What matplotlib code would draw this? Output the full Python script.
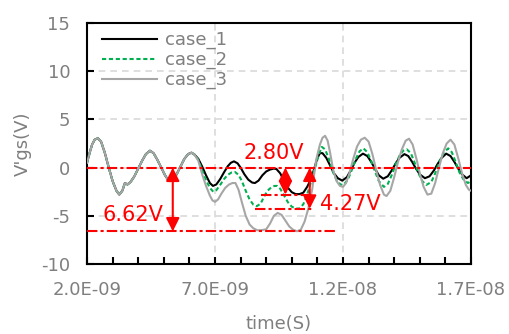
import numpy as np
import matplotlib
matplotlib.use('Agg')
import matplotlib.pyplot as plt
from matplotlib.ticker import MultipleLocator, FuncFormatter

plt.rcParams['axes.unicode_minus'] = False

# time values in ns, voltages in V
t_common = [2.0, 2.1, 2.2, 2.3, 2.42, 2.55, 2.7, 2.85, 3.0, 3.15, 3.26, 3.38, 3.48, 3.58,
            3.7, 3.85, 4.0, 4.15, 4.3, 4.46, 4.6, 4.75, 4.9, 5.05, 5.15, 5.25, 5.35, 5.5,
            5.65, 5.8, 5.95, 6.08, 6.2]
v_common = [0.5, 1.5, 2.4, 2.9, 3.05, 2.7, 1.5, 0.0, -1.4, -2.4, -2.8, -2.4, -1.6, -1.75,
            -1.5, -0.9, -0.1, 0.7, 1.4, 1.75, 1.5, 0.8, 0.0, -0.8, -1.2, -1.4, -1.3, -0.7,
            0.1, 0.9, 1.4, 1.55, 1.35]

t_case1 = [6.35, 6.5, 6.65, 6.8, 6.92, 7.05, 7.2, 7.35, 7.5, 7.62, 7.74, 7.88, 8.0, 8.15,
           8.3, 8.45, 8.56, 8.7, 8.85, 9.0, 9.15, 9.3, 9.4, 9.55, 9.7, 9.85, 10.0, 10.15,
           10.3, 10.45, 10.6, 10.75, 10.9, 11.0, 11.1, 11.2, 11.35, 11.5, 11.65, 11.8,
           11.97, 12.15, 12.3, 12.45, 12.6, 12.78, 12.95, 13.1, 13.25, 13.4, 13.57, 13.75,
           13.9, 14.05, 14.2, 14.4, 14.55, 14.7, 14.85, 15.0, 15.2, 15.38, 15.55, 15.7,
           15.85, 16.03, 16.2, 16.35, 16.5, 16.65, 16.83, 17.0]
v_case1 = [0.9, 0.1, -0.8, -1.6, -1.9, -1.75, -1.2, -0.5, 0.15, 0.5, 0.65, 0.45, 0.0, -0.7,
           -1.25, -1.55, -1.6, -1.35, -0.8, -0.4, -0.2, -0.1, -0.15, -0.6, -1.4, -2.1, -2.55,
           -2.75, -2.75, -2.6, -2.0, -1.2, 0.1, 1.0, 1.5, 1.5, 1.0, 0.2, -0.6, -1.1,
           -1.35, -1.0, -0.3, 0.5, 1.1, 1.45, 1.2, 0.6, -0.1, -0.8, -1.15, -0.9,
           -0.3, 0.4, 1.0, 1.4, 1.2, 0.6, -0.1, -0.7, -1.1, -0.9, -0.3, 0.4,
           1.0, 1.45, 1.2, 0.6, -0.1, -0.7, -1.1, -0.8]

t_case2 = [6.35, 6.5, 6.65, 6.8, 6.93, 7.05, 7.2, 7.35, 7.5, 7.65, 7.78, 7.92, 8.05, 8.2,
           8.35, 8.5, 8.63, 8.78, 8.92, 9.05, 9.2, 9.32, 9.43, 9.55, 9.7, 9.85, 10.0, 10.15,
           10.3, 10.45, 10.6, 10.75, 10.9, 11.05, 11.17, 11.3, 11.45, 11.6, 11.75, 11.9,
           12.02, 12.2, 12.35, 12.5, 12.65, 12.8, 12.95, 13.1, 13.25, 13.4, 13.6, 13.75,
           13.9, 14.05, 14.2, 14.35, 14.49, 14.65, 14.8, 14.95, 15.1, 15.25, 15.45, 15.6,
           15.75, 15.95, 16.11, 16.25, 16.4, 16.55, 16.7, 16.88, 17.0]
v_case2 = [0.8, -0.3, -1.3, -2.1, -2.5, -2.35, -1.8, -1.2, -0.75, -0.5, -0.45, -0.75, -1.4,
           -2.4, -3.3, -3.85, -4.0, -3.75, -3.0, -2.4, -2.05, -1.9, -1.9, -2.2, -2.9, -3.6,
           -4.05, -4.25, -4.25, -3.8, -2.8, -1.5, -0.1, 1.3, 2.15, 1.9, 0.9, -0.4, -1.3,
           -1.75, -1.8, -1.2, -0.2, 0.9, 1.7, 2.0, 1.6, 0.7, -0.4, -1.4, -2.0, -1.7,
           -0.8, 0.3, 1.2, 1.75, 1.9, 1.5, 0.5, -0.6, -1.4, -1.8, -1.5, -0.6,
           0.5, 1.6, 2.0, 1.6, 0.6, -0.5, -1.2, -1.6, -1.4]

t_case3 = [6.35, 6.5, 6.65, 6.8, 6.9, 7.0, 7.12, 7.25, 7.4, 7.55, 7.68, 7.8, 7.92, 8.05,
           8.2, 8.35, 8.5, 8.65, 8.8, 9.0, 9.15, 9.3, 9.45, 9.6, 9.75, 9.9, 10.05, 10.2,
           10.35, 10.5, 10.65, 10.8, 10.95, 11.1, 11.2, 11.3, 11.4, 11.5, 11.62, 11.75,
           11.88, 12.0, 12.12, 12.25, 12.4, 12.55, 12.7, 12.85, 13.0, 13.15, 13.3, 13.45,
           13.6, 13.7, 13.85, 14.0, 14.15, 14.3, 14.45, 14.58, 14.72, 14.87, 15.02, 15.15,
           15.3, 15.45, 15.6, 15.75, 15.9, 16.05, 16.2, 16.35, 16.5, 16.65, 16.8, 16.92, 17.0]
v_case3 = [0.7, -0.7, -1.9, -2.9, -3.4, -3.55, -3.3, -2.7, -2.1, -1.75, -1.6, -1.6, -2.3,
           -3.6, -5.0, -5.9, -6.3, -6.5, -6.5, -6.4, -5.8, -5.0, -4.7, -4.9, -5.5, -6.1,
           -6.45, -6.6, -6.45, -5.6, -4.2, -2.2, 0.8, 2.4, 3.1, 3.3, 2.8, 1.5, -0.3, -1.4,
           -1.9, -2.0, -1.6, -0.6, 0.9, 2.2, 2.9, 3.1, 2.7, 1.4, -0.3, -1.8,
           -2.8, -2.95, -2.4, -1.0, 0.6, 1.9, 2.8, 3.0, 2.4, 0.9, -0.8, -2.0,
           -2.8, -2.7, -1.6, 0.0, 1.5, 2.5, 2.9, 2.4, 1.0, -0.6, -1.8, -2.3, -2.4]

x_ticks = [2e-9, 7e-9, 1.2e-8, 1.7e-8]

# measured drops (V)
drop_labels = ['6.62V', '2.80V', '4.27V']
drop_values = [6.62, 2.80, 4.27]

gray = '#7f7f7f'
red = '#ff0000'

fig, ax = plt.subplots(figsize=(5.1, 3.34), dpi=100)
fig.subplots_adjust(left=0.1706, right=0.9235, top=0.931, bottom=0.2096)

ns = 1e-9
t1 = np.array(t_common + t_case1) * ns
t2 = np.array(t_common + t_case2) * ns
t3 = np.array(t_common + t_case3) * ns
ax.plot(t1, v_common + v_case1, color='black', lw=1.5, label='case_1', zorder=3)
ax.plot(t2, v_common + v_case2, color='#00b050', lw=1.5, ls=(0, (2, 1.3)),
        label='case_2', zorder=3)
ax.plot(t3, v_common + v_case3, color='#a6a6a6', lw=1.5, label='case_3', zorder=3)

# reference lines
dd = (0, (5, 1.5, 1.5, 1.5))
ax.axhline(0, color=red, lw=1.5, ls=dd, zorder=4)
ax.plot([2.0 * ns, 11.7 * ns], [-drop_values[0]] * 2, color=red, lw=1.5, ls=dd, zorder=4)
ax.plot([8.8 * ns, 10.75 * ns], [-drop_values[1]] * 2, color=red, lw=1.5, ls=dd, zorder=4)
ax.plot([8.55 * ns, 10.85 * ns], [-drop_values[2]] * 2, color=red, lw=1.5, ls=dd, zorder=4)

arrow_x = [5.35, 9.75, 10.7]
for x, d in zip(arrow_x, drop_values):
    ax.annotate('', xy=(x * ns, -d), xytext=(x * ns, 0),
                arrowprops=dict(arrowstyle='<|-|>,head_length=0.4,head_width=0.2',
                                color=red, lw=1.5, shrinkA=0, shrinkB=0,
                                mutation_scale=20), zorder=5)

ax.text(3.8 * ns, -4.95, drop_labels[0], color=red, fontsize=15, ha='center', va='center')
ax.text(8.1 * ns, 1.55, drop_labels[1], color=red, fontsize=15, ha='left', va='center')
ax.text(11.1 * ns, -3.8, drop_labels[2], color=red, fontsize=15, ha='left', va='center')

ax.set_xlim(2e-9, 1.7e-8)
ax.set_ylim(-10, 15)
ax.set_xticks(x_ticks)
ax.xaxis.set_minor_locator(MultipleLocator(1e-9))
ax.yaxis.set_major_locator(MultipleLocator(5))
ax.xaxis.set_major_formatter(FuncFormatter(lambda v, _: f'{v:.1E}'))

ax.grid(True, which='major', color='#d9d9d9', ls=(0, (4, 3)), lw=1.2, zorder=0)
ax.tick_params(which='both', direction='in', length=5, width=1.5, colors='black',
               labelcolor=gray, labelsize=13)
ax.tick_params(axis='y', pad=12)
ax.tick_params(axis='x', pad=12)
ax.tick_params(top=False, right=False, which='both')
for s in ax.spines.values():
    s.set_linewidth(1.5)
    s.set_color('black')

ax.set_xlabel('time(S)', color=gray, fontsize=13, labelpad=12)
ax.set_ylabel("V'gs(V)", color=gray, fontsize=13, labelpad=7)

leg = ax.legend(loc='upper left', bbox_to_anchor=(0.012, 1.012), frameon=False,
                fontsize=13, handlelength=3.0, handletextpad=0.45, labelspacing=0.1,
                borderaxespad=0.3, borderpad=0.3)
for txt in leg.get_texts():
    txt.set_color(gray)

fig.savefig('out.png', dpi=100)
